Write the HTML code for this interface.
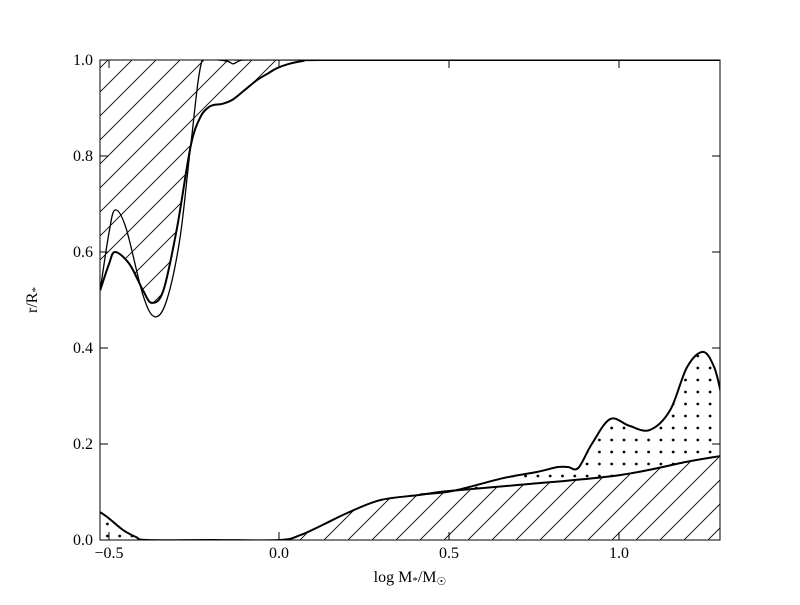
<!DOCTYPE html>
<html><head><meta charset="utf-8"><style>
body{margin:0;background:#fff}
svg text{font-family:"Liberation Serif",serif;fill:#000}
</style></head><body>
<svg id="chart" width="800" height="600" xmlns="http://www.w3.org/2000/svg">
<defs>
<pattern id="hatch" patternUnits="userSpaceOnUse" width="24" height="24">
<path d="M-6,6 L6,-6 M0,24 L24,0 M18,30 L30,18" stroke="#000" stroke-width="0.9"/>
</pattern>
<pattern id="dots" patternUnits="userSpaceOnUse" width="12.3" height="12" x="3" y="2">
<circle cx="6" cy="6" r="1.4" fill="#000"/>
</pattern>
<clipPath id="plotclip"><rect x="100" y="60" width="620" height="480"/></clipPath>
<clipPath id="rightclip"><rect x="279" y="60" width="441" height="480"/></clipPath>
</defs>
<rect x="0" y="0" width="800" height="600" fill="#fff"/>
<g id="marks" clip-path="url(#plotclip)"></g>
<g id="axes"></g>
</svg>
<script>
// Data
const envBoundX = [-0.526,-0.50,-0.482,-0.44,-0.40,-0.374,-0.34,-0.30,-0.26,-0.232,-0.21,-0.194,-0.165,-0.135,-0.10,-0.065,-0.03,-0.006,0.03,0.07,0.12,0.5,1.3];
const envBoundY = [0.52,0.575,0.60,0.575,0.52,0.494,0.52,0.65,0.82,0.88,0.90,0.906,0.909,0.918,0.938,0.958,0.973,0.983,0.992,0.998,1.0,1.0,1.0];
const thinX = [-0.526,-0.50,-0.482,-0.45,-0.40,-0.365,-0.33,-0.291,-0.26,-0.226,-0.18,-0.15,-0.135,-0.12,-0.10,0.0,1.3];
const thinY = [0.52,0.64,0.6875,0.65,0.51,0.465,0.50,0.63,0.82,1.0,1.0,0.997,0.992,0.997,1.0,1.0,1.0];
const coreX = [-0.526,-0.50,-0.459,-0.42,-0.388,-0.2,0.0,0.062,0.13,0.2,0.297,0.415,0.5,0.71,1.0,1.2,1.3];
const coreY = [0.058,0.045,0.021,0.006,0.0,0.0,0.0,0.01,0.032,0.056,0.083,0.094,0.102,0.115,0.135,0.163,0.175];
const mixX = [0.415,0.51,0.66,0.76,0.82,0.85,0.88,0.92,0.974,1.03,1.09,1.15,1.2,1.247,1.28,1.3];
const mixY = [0.095,0.102,0.129,0.142,0.152,0.152,0.15,0.2,0.252,0.238,0.229,0.27,0.36,0.392,0.36,0.306];
const xTicks = [-0.5,0.0,0.5,1.0];
const xTickLabels = ["\u22120.5","0.0","0.5","1.0"];
const yTicks = [0,0.2,0.4,0.6,0.8,1.0];
const yTickLabels = ["0.0","0.2","0.4","0.6","0.8","1.0"];

const X = v => 279 + 340*v;
const Y = v => 540 - 480*v;
const NS="http://www.w3.org/2000/svg";
function pts(xs,ys){return xs.map((x,i)=>[X(x),Y(ys[i])]);}
function smooth(p){
  let d=`M${p[0][0]},${p[0][1]}`;
  for(let i=0;i<p.length-1;i++){
    const p0=p[Math.max(i-1,0)],p1=p[i],p2=p[i+1],p3=p[Math.min(i+2,p.length-1)];
    const c1=[p1[0]+(p2[0]-p0[0])/6,p1[1]+(p2[1]-p0[1])/6];
    const c2=[p2[0]-(p3[0]-p1[0])/6,p2[1]-(p3[1]-p1[1])/6];
    d+=` C${c1[0]},${c1[1]} ${c2[0]},${c2[1]} ${p2[0]},${p2[1]}`;
  }
  return d;
}
function rev(xs,ys){return [xs.slice().reverse(),ys.slice().reverse()];}
const marks=document.getElementById('marks');
function add(parent,tag,attrs){const e=document.createElementNS(NS,tag);for(const k in attrs)e.setAttribute(k,attrs[k]);parent.appendChild(e);return e;}

const envP=pts(envBoundX,envBoundY);
let e=add(marks,'path',{d:smooth(envP)+` L${X(1.3)},${Y(1.05)} L${X(-0.526)},${Y(1.05)} Z`,fill:'url(#hatch)'});


const coreP=pts(coreX,coreY);
e=add(marks,'path',{d:smooth(coreP)+` L${X(1.3)},${Y(-0.05)} L${X(-0.526)},${Y(-0.05)} Z`,fill:'url(#hatch)','clip-path':'url(#rightclip)'});


const mixP=pts(mixX,mixY);
const [rcx,rcy]=rev(coreX.filter(x=>x>=0.415),coreY.filter((y,i)=>coreX[i]>=0.415));
e=add(marks,'path',{d:smooth(mixP)+' L'+smooth(pts(rcx,rcy)).slice(1),fill:'url(#dots)'});


e=add(marks,'path',{d:`M${X(-0.526)},${Y(0)} L${X(-0.526)},${Y(0.05)} L${X(-0.46)},${Y(0.015)} L${X(-0.4)},${Y(0)} Z`,fill:'url(#dots)'});


e=add(marks,'path',{d:smooth(envP),fill:'none',stroke:'#000','stroke-width':2});


e=add(marks,'path',{d:smooth(pts(thinX,thinY)),fill:'none',stroke:'#000','stroke-width':1.3});


e=add(marks,'path',{d:smooth(coreP),fill:'none',stroke:'#000','stroke-width':2});


e=add(marks,'path',{d:smooth(mixP),fill:'none',stroke:'#000','stroke-width':2});



const ax=document.getElementById('axes');
e=add(ax,'rect',{x:100,y:60,width:620,height:480,fill:'none',stroke:'#000','stroke-width':1});


xTicks.forEach((t,i)=>{
  const x=X(t);
  let l=add(ax,'path',{d:`M${x},540 v-8 M${x},60 v8`,stroke:'#000','stroke-width':1});
  
  
  let tx=add(ax,'text',{x:x,y:558,'text-anchor':'middle','font-size':16});
  tx.textContent=xTickLabels[i];
  
  
});
yTicks.forEach((t,i)=>{
  const y=Y(t);
  let l=add(ax,'path',{d:`M100,${y} h8 M720,${y} h-8`,stroke:'#000','stroke-width':1});
  
  
  let tx=add(ax,'text',{x:93,y:y+5,'text-anchor':'end','font-size':16});
  tx.textContent=yTickLabels[i];
  
  
});
</script>
<svg style="position:absolute;left:0;top:0" width="800" height="600" pointer-events="none">
<text x="410" y="582" text-anchor="middle" font-size="16" font-family="Liberation Serif, serif">log M<tspan font-size="11" dy="2">*</tspan><tspan dy="-2">/M</tspan><tspan font-size="11" dy="3">☉</tspan></text>
<text transform="translate(37,300) rotate(-90)" text-anchor="middle" font-size="16" font-family="Liberation Serif, serif">r/R<tspan font-size="11" dy="2">*</tspan></text>
</svg>
</body></html>
